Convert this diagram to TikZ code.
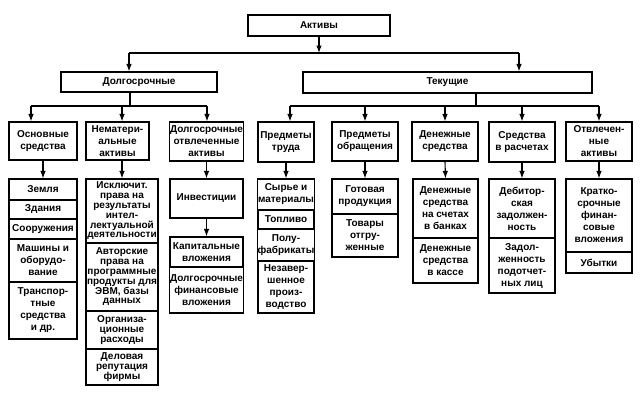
\documentclass[tikz,border=0pt]{standalone}
\usepackage{fontspec}
\setmainfont{Liberation Sans}
\usetikzlibrary{arrows.meta}
\tikzset{
  boxstyle/.style={draw, line width=1.1pt, inner sep=0.5pt, align=center, font=\fontsize{10}{12}\selectfont\bfseries},
  densebox/.style={font=\fontsize{10}{9.8}\selectfont\bfseries},
  conn/.style={line width=1.1pt},
  arr/.style={conn, -{Latex[length=7.5pt,width=5.5pt]}},
}
\newcommand{\bx}[7][]{\node[boxstyle,#1,minimum width={#4-#3},minimum height={#6-#5}] (#2) at ({(#3+#4)/2},{(#5+#6)/2}) {#7};}
\begin{document}
\begin{tikzpicture}[x=1pt,y=-1pt]
\useasboundingbox (0,0) rectangle (642,400);
% level 0 and 1
\bx{akt}{248}{390}{15}{36}{Активы}
\bx{dolg}{61}{217}{72}{92}{Долгосрочные}
\bx{tek}{303}{592}{72}{93}{Текущие}
% level 2
\bx{osn}{9}{77}{122}{160}{Основные\\средства}
\bx{nem}{86}{149}{122}{160}{Нематери-\\альные\\активы}
\bx{dot}{170}{243}{122}{161}{Долгосрочные\\отвлеченные\\активы}
\bx{ptr}{258}{314}{122}{162}{Предметы\\труда}
\bx{pob}{332}{398}{122}{161}{Предметы\\обращения}
\bx{dsr}{412}{478}{122}{161}{Денежные\\средства}
\bx{srs}{489}{555}{122}{162}{Средства\\в расчетах}
\bx{otv}{566}{632}{122}{161}{Отвлечен-\\ные\\активы}
% lists
\bx{osn1}{9}{77}{179}{200}{Земля}
\bx{osn2}{9}{77}{200}{219}{Здания}
\bx{osn3}{9}{77}{219}{239}{Сооружения}
\bx{osn4}{9}{77}{239}{282}{Машины и\\оборудо-\\вание}
\bx{osn5}{9}{77}{282}{339}{Транспор-\\тные\\средства\\и др.}
\bx[densebox]{nem1}{86}{158}{179}{243}{Исключит.\\права на\\результаты\\интел-\\лектуальной\\деятельности}
\bx[densebox]{nem2}{86}{158}{243}{311}{Авторские\\права на\\программные\\продукты для\\ЭВМ, базы\\данных}
\bx[densebox]{nem3}{86}{158}{311}{349}{Организа-\\ционные\\расходы}
\bx[densebox]{nem4}{86}{158}{349}{385}{Деловая\\репутация\\фирмы}
\bx{inv}{170}{243}{179}{218}{Инвестиции}
\bx{kap}{170}{243}{237}{267}{Капитальные\\вложения}
\bx{dfv}{170}{243}{267}{313}{Долгосрочные\\финансовые\\вложения}
\bx{ptr1}{258}{314}{179}{210}{Сырье и\\материалы}
\bx{ptr2}{258}{314}{210}{229}{Топливо}
\bx{ptr3}{258}{314}{229}{261}{Полу-\\фабрикаты}
\bx{ptr4}{258}{314}{261}{313}{Незавер-\\шенное\\произ-\\водство}
\bx{pob1}{332}{398}{179}{214}{Готовая\\продукция}
\bx{pob2}{332}{398}{214}{257}{Товары\\отгру-\\женные}
\bx{dsr1}{413}{478}{179}{238}{Денежные\\средства\\на счетах\\в банках}
\bx{dsr2}{413}{478}{238}{283}{Денежные\\средства\\в кассе}
\bx{srs1}{489}{555}{179}{238}{Дебитор-\\ская\\задолжен-\\ность}
\bx{srs2}{489}{555}{238}{293}{Задол-\\женность\\подотчет-\\ных лиц}
\bx{otv1}{566}{632}{179}{252}{Кратко-\\срочные\\финан-\\совые\\вложения}
\bx{otv2}{566}{632}{252}{273}{Убытки}
% top connectors
\coordinate (t0) at (319,53);
\coordinate (tL) at (129,53);
\coordinate (tR) at (519,53);
\draw[arr] (akt.south) -- (t0);
\draw[conn] (tL) -- (tR);
\draw[arr] (tL) -- (tL |- dolg.north);
\draw[arr] (tR) -- (tR |- tek.north);
% long-term bus
\coordinate (dB) at (130,106);
\coordinate (dB1) at (31,106);
\coordinate (dB2) at (122,106);
\coordinate (dB3) at (207,106);
\draw[conn] (dB |- dolg.south) -- (dB);
\draw[conn] (dB1) -- (dB3);
\draw[arr] (dB1) -- (dB1 |- osn.north);
\draw[arr] (dB2) -- (dB2 |- nem.north);
\draw[arr] (dB3) -- (dB3 |- dot.north);
% current bus
\coordinate (cB) at (476,106);
\coordinate (cB1) at (290,106);
\coordinate (cB2) at (365,106);
\coordinate (cB3) at (445,106);
\coordinate (cB4) at (522,106);
\coordinate (cB5) at (599,106);
\draw[conn] (cB |- tek.south) -- (cB);
\draw[conn] (cB1) -- (cB5);
\draw[arr] (cB1) -- (cB1 |- ptr.north);
\draw[arr] (cB2) -- (cB2 |- pob.north);
\draw[arr] (cB3) -- (cB3 |- dsr.north);
\draw[arr] (cB4) -- (cB4 |- srs.north);
\draw[arr] (cB5) -- (cB5 |- otv.north);
% level 2 to lists
\draw[arr] (osn.south) -- (osn1.north);
\draw[arr] (nem1.north |- nem.south) -- (nem1.north);
\draw[arr] (dot.south) -- (inv.north);
\draw[arr] (inv.south) -- (kap.north);
\draw[arr] (ptr.south) -- (ptr1.north);
\draw[arr] (pob.south) -- (pob1.north);
\draw[arr] (dsr.south) -- (dsr1.north);
\draw[arr] (srs.south) -- (srs1.north);
\draw[arr] (otv.south) -- (otv1.north);
\end{tikzpicture}
\end{document}
